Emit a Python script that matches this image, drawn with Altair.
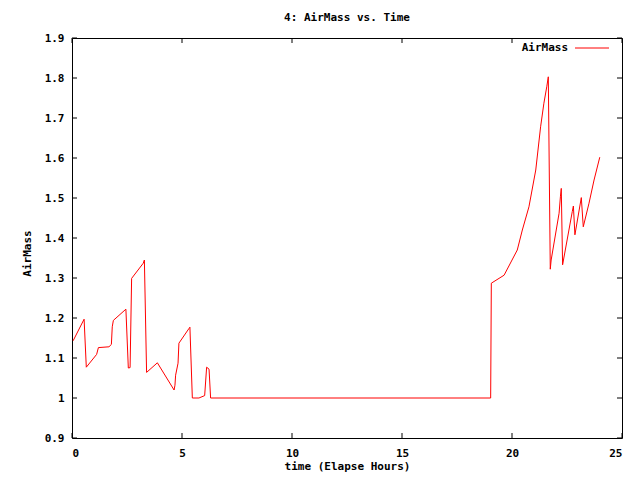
import altair as alt
import pandas as pd

# Elapsed time (hours) and air mass values
hours = [0.05, 0.55, 0.65, 1.12, 1.2, 1.68, 1.79, 1.83, 1.88, 2.45, 2.56, 2.64,
         2.71, 3.24, 3.29, 3.39, 3.88, 4.64, 4.68, 4.71, 4.82, 4.86, 5.32, 5.36,
         5.47, 5.77, 6.03, 6.12, 6.23, 6.30, 19.03, 19.06, 19.64, 20.24, 20.47,
         20.77, 21.08, 21.3, 21.45, 21.58, 21.65, 21.74, 21.78, 22.14, 22.2,
         22.24, 22.30, 22.74, 22.79, 22.86, 23.15, 23.24, 23.5, 23.73, 23.99]
airmass = [1.143, 1.197, 1.077, 1.109, 1.126, 1.128, 1.134, 1.178, 1.194, 1.222,
           1.075, 1.076, 1.299, 1.337, 1.345, 1.064, 1.088, 1.02, 1.032, 1.057,
           1.087, 1.137, 1.174, 1.177, 1.0, 1.0, 1.006, 1.077, 1.072, 1.0, 1.0,
           1.287, 1.307, 1.37, 1.42, 1.478, 1.57, 1.678, 1.737, 1.778, 1.803,
           1.322, 1.345, 1.462, 1.503, 1.524, 1.333, 1.466, 1.48, 1.408, 1.501,
           1.428, 1.487, 1.545, 1.602]

x_ticks = [0, 5, 10, 15, 20, 25]
y_ticks = [0.9, 1.0, 1.1, 1.2, 1.3, 1.4, 1.5, 1.6, 1.7, 1.8, 1.9]

FONT = "DejaVu Sans Mono"
W, H = 550, 400
TICK = 5

df = pd.DataFrame({"t": hours, "v": airmass})
xt = pd.DataFrame({"t": x_ticks})
yt = pd.DataFrame({"v": y_ticks})

xscale = alt.Scale(domain=[0, 25], nice=False, zero=False)
yscale = alt.Scale(domain=[0.9, 1.9], nice=False, zero=False)

x_axis = alt.Axis(
    values=x_ticks, ticks=False, grid=False, domain=False, labelOverlap=False,
    labelFont=FONT, labelFontSize=11, labelFontWeight="bold", labelColor="black",
    labelPadding=9, title="time (Elapse Hours)", titleFont=FONT, titleFontSize=11,
    titleFontWeight="bold", titleColor="black", titleX=W / 2, titleY=28,
    titleBaseline="middle", titleAlign="center")
y_axis = alt.Axis(
    values=y_ticks, ticks=False, grid=False, domain=False, format=".1~f",
    labelOverlap=False, labelBound=False,
    labelFont=FONT, labelFontSize=11, labelFontWeight="bold", labelColor="black",
    labelPadding=8, title="AirMass", titleFont=FONT, titleFontSize=11,
    titleFontWeight="bold", titleColor="black", titleX=-45, titleY=H / 2 + 15,
    titleAngle=-90, titleBaseline="middle", titleAlign="center")

line = alt.Chart(df).mark_line(color="#ff0000", strokeWidth=1, interpolate="linear").encode(
    x=alt.X("t:Q", scale=xscale, axis=x_axis),
    y=alt.Y("v:Q", scale=yscale, axis=y_axis),
)

xtick_bottom = alt.Chart(xt).mark_rule(color="black", strokeWidth=1).encode(
    x=alt.X("t:Q", scale=xscale, axis=x_axis), y=alt.value(H), y2=alt.value(H - TICK))
xtick_top = alt.Chart(xt).mark_rule(color="black", strokeWidth=1).encode(
    x=alt.X("t:Q", scale=xscale, axis=x_axis), y=alt.value(0), y2=alt.value(TICK))
ytick_left = alt.Chart(yt).mark_rule(color="black", strokeWidth=1).encode(
    y=alt.Y("v:Q", scale=yscale, axis=y_axis), x=alt.value(0), x2=alt.value(TICK))
ytick_right = alt.Chart(yt).mark_rule(color="black", strokeWidth=1).encode(
    y=alt.Y("v:Q", scale=yscale, axis=y_axis), x=alt.value(W), x2=alt.value(W - TICK))

legend_df = pd.DataFrame({"label": ["AirMass"]})
legend_text = alt.Chart(legend_df).mark_text(
    font=FONT, fontSize=11, fontWeight="bold", color="black", align="right", baseline="middle"
).encode(text="label:N", x=alt.value(496), y=alt.value(10))
legend_line = alt.Chart(legend_df).mark_rule(color="#ff0000", strokeWidth=1).encode(
    x=alt.value(503), x2=alt.value(537), y=alt.value(10))

chart = alt.layer(
    line, xtick_bottom, xtick_top, ytick_left, ytick_right, legend_text, legend_line
).properties(
    width=W, height=H,
    title=alt.TitleParams("4: AirMass vs. Time", font=FONT, fontSize=11, fontWeight="bold",
                          color="black", anchor="middle", offset=9),
    padding={"left": 64, "top": 30, "right": 10, "bottom": 34},
    autosize=alt.AutoSizeParams(type="none"),
    background="white",
).configure_view(stroke="black", strokeWidth=1)

chart.save("out.html", embed_options={"renderer": "svg", "actions": False})
